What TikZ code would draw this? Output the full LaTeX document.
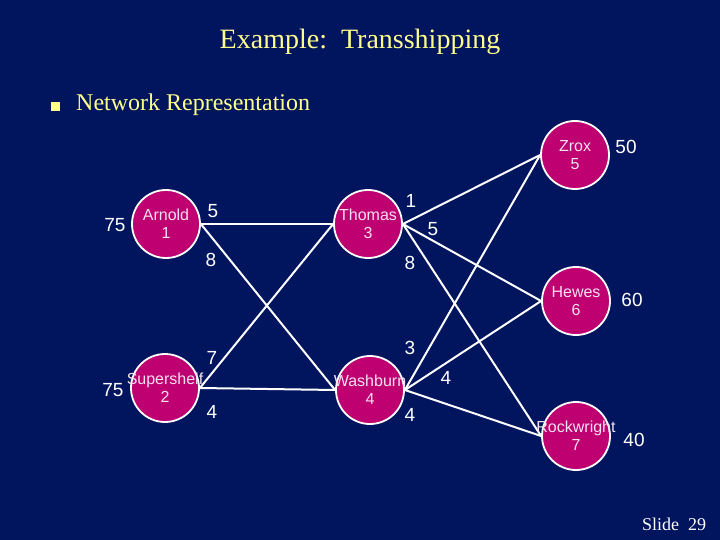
\documentclass[tikz,border=0pt]{standalone}
\usepackage{fontspec}
\setmainfont{Liberation Serif}
\newfontfamily\arialfont{Liberation Sans}
\definecolor{slidebg}{RGB}{0,21,94}
\definecolor{sitefill}{RGB}{190,0,112}
\definecolor{titleyellow}{RGB}{255,255,140}
\definecolor{sitetextcol}{RGB}{245,225,240}
\tikzset{
  site/.style={circle, draw=white, line width=1.8pt, fill=sitefill, minimum size=68pt, inner sep=0pt},
  sitetext/.style={text=sitetextcol, align=center, font=\arialfont\fontsize{16}{18}\selectfont, inner sep=0pt},
  num/.style={text=white, font=\arialfont\fontsize{19}{21}\selectfont, inner sep=0pt},
  arc/.style={draw=white, line width=2pt}
}
\begin{document}
\begin{tikzpicture}[x=1pt,y=-1pt]
\fill[slidebg] (0,0) rectangle (720,540);
\useasboundingbox (0,0) rectangle (720,540);
% title
\node[text=titleyellow, font=\fontsize{28}{32}\selectfont] (title) at (360,42) {Example:\ \ Transshipping};
\node[fill=titleyellow, minimum size=9pt, inner sep=0pt] (bullet) at (55,107) {};
\node[text=titleyellow, font=\fontsize{24}{28}\selectfont, anchor=west, inner sep=0pt] (sub) at (76,105) {Network Representation};
\node[text=white, font=\fontsize{18}{20}\selectfont] (slide) at (674,524) {Slide\ \ 29};
% sites
\node[site] (arnold) at (166,224) {};
\node[site] (thomas) at (368,224) {};
\node[site] (super) at (165,388) {};
\node[site] (wash) at (370,390) {};
\node[site] (zrox) at (575,155) {};
\node[site] (hewes) at (576,301) {};
\node[site] (rock) at (576,436) {};
% edges
\draw[arc] (arnold.east) -- (thomas.west);
\draw[arc] (arnold.east) -- (wash.west);
\draw[arc] (super.east) -- (thomas.west);
\draw[arc] (super.east) -- (wash.west);
\draw[arc] (thomas.east) -- (zrox.west);
\draw[arc] (thomas.east) -- (hewes.west);
\draw[arc] (thomas.east) -- (rock.west);
\draw[arc] (wash.east) -- (zrox.west);
\draw[arc] (wash.east) -- (hewes.west);
\draw[arc] (wash.east) -- (rock.west);
% site texts
\node[sitetext] (tarnold) at (arnold) {Arnold\\1};
\node[sitetext] (tthomas) at (thomas) {Thomas\\3};
\node[sitetext] (tsuper) at (super) {Supershelf\\2};
\node[sitetext] (twash) at (wash) {Washburn\\4};
\node[sitetext] (tzrox) at (zrox) {Zrox\\5};
\node[sitetext] (thewes) at (hewes) {Hewes\\6};
\node[sitetext] (trock) at (rock) {Rockwright\\7};
% numbers
\node[num] (s1) at (115,225) {75};
\node[num] (s2) at (113,390) {75};
\node[num] (d5) at (626,147) {50};
\node[num] (d6) at (632,300) {60};
\node[num] (d7) at (634,440) {40};
\node[num] (c13) at (213,211) {5};
\node[num] (c14) at (211,260) {8};
\node[num] (c23) at (212,358) {7};
\node[num] (c24) at (212,412) {4};
\node[num] (c35) at (411,201) {1};
\node[num] (c36) at (433,229) {5};
\node[num] (c37) at (410,263) {8};
\node[num] (c45) at (410,348) {3};
\node[num] (c46) at (446,378) {4};
\node[num] (c47) at (410,415) {4};
\end{tikzpicture}
\end{document}
